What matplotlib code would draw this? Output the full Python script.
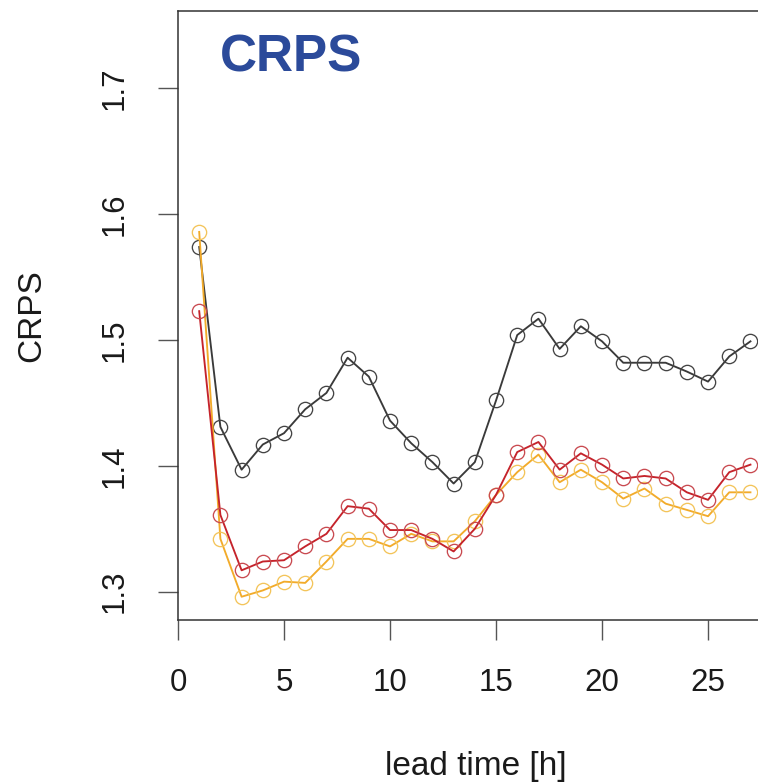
import matplotlib
matplotlib.use("Agg")
import matplotlib.pyplot as plt

plt.rcParams['font.family'] = ['Liberation Sans', 'DejaVu Sans']

lead_time = list(range(1, 28))
crps_black = [1.574, 1.431, 1.397, 1.417, 1.426, 1.445, 1.458, 1.486, 1.471, 1.436,
              1.418, 1.403, 1.386, 1.403, 1.452, 1.504, 1.517, 1.493, 1.511, 1.499,
              1.482, 1.482, 1.482, 1.475, 1.467, 1.487, 1.499]
crps_red = [1.523, 1.361, 1.317, 1.324, 1.325, 1.336, 1.346, 1.368, 1.366, 1.349,
            1.349, 1.342, 1.332, 1.350, 1.377, 1.411, 1.419, 1.397, 1.410, 1.401,
            1.390, 1.392, 1.390, 1.379, 1.373, 1.395, 1.401]
crps_yellow = [1.586, 1.342, 1.296, 1.301, 1.308, 1.307, 1.324, 1.342, 1.342, 1.336,
               1.346, 1.340, 1.340, 1.356, 1.377, 1.395, 1.409, 1.387, 1.397, 1.387,
               1.374, 1.382, 1.370, 1.365, 1.360, 1.379, 1.379]
x_ticks = [0, 5, 10, 15, 20, 25]
y_ticks = [1.3, 1.4, 1.5, 1.6, 1.7]

W, H = 758, 784
fig = plt.figure(figsize=(W / 100, H / 100), dpi=100)
left, right, top, bottom = 178, 760, 11, 620
ax = fig.add_axes([left / W, (H - bottom) / H, (right - left) / W, (bottom - top) / H])

ms = 10.3
ax.plot(lead_time, crps_black, color='#3a3a3a', lw=1.35, marker='o', ms=ms,
        mfc='none', mec='#444444', mew=0.95)
ax.plot(lead_time, crps_yellow, color='#f2ab2a', lw=1.35, marker='o', ms=ms,
        mfc='none', mec='#f3c45a', mew=0.95)
ax.plot(lead_time, crps_red, color='#c5232b', lw=1.35, marker='o', ms=ms,
        mfc='none', mec='#c94a50', mew=0.95)

ax.set_xlim(0, 27.45)
ax.set_ylim(1.2775, 1.7616)
ax.set_xticks(x_ticks)
ax.set_yticks(y_ticks)
ax.set_xticklabels([str(v) for v in x_ticks], fontsize=22.5)
ax.set_yticklabels([f"{v:.1f}" for v in y_ticks], fontsize=22.5, rotation=90, va='center')
ax.tick_params(axis='both', direction='out', length=14.5, width=1.0, color='#555555',
               pad=20, labelcolor='#1a1a1a')
for s in ['left', 'bottom', 'top']:
    ax.spines[s].set_linewidth(1.1)
    ax.spines[s].set_color('#333333')
ax.spines['right'].set_visible(False)

ax.text(220 / W, 1 - 72 / H, 'CRPS', transform=fig.transFigure, fontsize=37,
        fontweight='bold', color='#2b4a9a', ha='left', va='baseline')
fig.text(476 / W, 1 - 775 / H, 'lead time [h]', fontsize=24, color='#1a1a1a',
         ha='center', va='baseline')
fig.text(31.5 / W, 1 - 316 / H, 'CRPS', fontsize=24, color='#1a1a1a', rotation=90,
         ha='center', va='center')

fig.savefig('out.png', dpi=100)
